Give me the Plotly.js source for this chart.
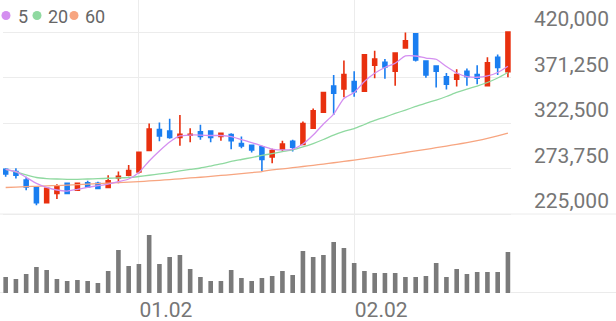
<!DOCTYPE html>
<html><head><meta charset="utf-8">
<script src="https://cdn.plot.ly/plotly-3.0.1.min.js"></script>
<style>html,body{margin:0;padding:0;background:#fff}#chart{width:616px;height:321px}</style>
</head><body><div id="chart"></div>
<script>
const dates = ['12.13','12.14','12.15','12.16','12.19','12.20','12.21','12.22','12.23','12.26','12.27','12.28','12.29',
  '01.02','01.03','01.04','01.05','01.06','01.09','01.10','01.11','01.12','01.13','01.16','01.17','01.18','01.19','01.20',
  '01.25','01.26','01.27','01.30','01.31','02.01','02.02','02.03','02.06','02.07','02.08','02.09','02.10','02.13','02.14',
  '02.15','02.16','02.17','02.20','02.21','02.22','02.23'];
const open  = [273000,270500,261500,253500,237000,247000,258000,250500,258500,258000,253500,263500,266500,270000,293000,315500,314000,307000,309500,313000,314000,308000,310000,300500,298500,297000,286000,294500,303000,299500,317000,334000,362000,359000,367000,356500,384500,387500,378000,403000,418000,389000,383500,372000,369500,378000,374500,362500,393000,377500];
const high  = [274000,274000,265000,254000,253000,257000,258500,258500,260500,259500,266500,270500,277500,292000,322000,323000,327000,331000,317000,320500,314500,312000,311500,308000,299500,298000,295000,303500,304500,324000,338000,356000,374000,389500,378000,396000,400000,391000,398000,419500,418500,389500,384500,376000,380000,381000,384500,393000,396000,420000];
const low   = [265000,263000,250500,234500,236500,241000,246500,250000,253500,251500,253000,258000,265500,268500,292500,303000,305500,298000,302000,304500,302000,303500,294500,295500,291000,271000,279500,292000,292000,299000,316000,333500,331000,350000,350500,356000,370500,370000,362500,402500,388500,371000,360500,358500,361500,362500,364000,362000,374000,371500];
const close = [268000,266500,254000,237000,252500,255000,247000,258000,254000,252500,260500,265500,271500,291000,316000,308500,307000,310500,310500,308000,307000,311500,303500,298000,293500,283500,293000,300000,296500,322000,335500,355000,354500,374500,356000,395500,391000,382500,397500,410500,390000,374000,378000,364000,374500,372000,370500,387000,382000,420000];
const volume = [16000,14000,19000,26000,23000,14000,12000,13000,12000,10000,22000,43000,27000,29000,58000,29000,36000,38000,24000,16000,12000,12000,23000,15000,12000,15000,17000,22000,18000,42000,36000,38000,51000,45000,30000,22000,20000,20000,20000,16000,16000,17000,30000,16000,24000,19000,21000,21000,21000,41000];
const ma5  = [272900,270300,264300,257900,253600,250700,249600,251500,253600,255300,257100,259600,262500,269500,281800,292500,302100,308600,309600,309600,309100,309100,308000,304800,301600,297900,294600,293600,294600,300000,309600,321400,332100,348800,355200,367000,375800,382000,386500,394300,394300,392100,390800,383000,376100,372300,371500,372900,376600,383300];
const ma20 = [272700,270000,266800,264100,263000,262500,262200,262200,262500,262800,263300,263600,264100,265200,266500,267900,269300,271100,272700,274300,276400,278600,281300,283400,285500,287700,289800,291800,293600,296800,300500,304800,309600,313400,316600,320900,325200,328900,332700,336400,340200,343900,347100,350900,355200,358900,362100,365900,370700,376600];
const ma60 = [253400,253800,254300,254700,255100,255500,256000,256500,257000,257600,258100,258600,259200,259700,260400,261100,261900,262700,263600,264400,265300,266300,267200,268200,269300,270500,272300,273400,274600,275900,277200,278500,279900,281300,282800,284300,285900,287500,289200,290900,292600,294300,296000,297800,299600,301500,303600,306000,308700,311600];
const priceTicks = [225000,273750,322500,371250,420000];
const dateTicks = ['01.02','02.02'];
const maNames = ['5','20','60'];
const maColors = ['#d48ff0','#8fd9a0','#f7a580'];

const UP = '#e8300f', DOWN = '#1a7ef0', GRID = '#ececec', TXT = '#767676';
const W = 616, H = 321, L = 3, R = 105, T = 0, B = 28;
const pw = W - L - R, ph = H - T - B;
const px = v => (v - L) / pw, py = v => (H - B - v) / ph;

const traces = [
  {type:'bar', x:dates, y:volume, xaxis:'x', yaxis:'y2', width:0.45,
   marker:{color:'#7a7a7a', line:{width:0}}, hoverinfo:'skip', showlegend:false},
  {type:'candlestick', x:dates, open:open, high:high, low:low, close:close, xaxis:'x', yaxis:'y',
   increasing:{line:{color:UP, width:1.6}, fillcolor:UP},
   decreasing:{line:{color:DOWN, width:1.6}, fillcolor:DOWN},
   whiskerwidth:0, hoverinfo:'skip', showlegend:false}
];
[ma60, ma20, ma5].forEach((arr, k) => {
  const i = 2 - k;
  traces.push({type:'scatter', mode:'lines', x:dates, y:arr, xaxis:'x', yaxis:'y', name:maNames[i],
    line:{color:maColors[i], width:1.3, shape:'spline', smoothing:0.6}, hoverinfo:'skip', showlegend:false});
});

const legendX = [6, 37, 74], legendTextX = [15.5, 45.5, 82.5];
const annotations = maNames.map((n, i) => ({
  xref:'paper', yref:'paper', x:px(legendTextX[i]), y:py(16), xanchor:'left', yanchor:'middle',
  text:n, showarrow:false, font:{family:'Roboto', size:18, color:'#666'}
}));
const shapes = maColors.map((c, i) => ({
  type:'circle', xref:'paper', yref:'paper', xsizemode:'pixel', ysizemode:'pixel',
  xanchor:px(legendX[i]), yanchor:py(15.5), x0:-4.5, x1:4.5, y0:-4.5, y1:4.5,
  fillcolor:c, line:{width:0}
}));
shapes.push({type:'line', xref:'paper', yref:'y', x0:px(0), x1:px(W), y0:priceTicks[0], y1:priceTicks[0],
  line:{color:GRID, width:1}, layer:'below'});
shapes.push({type:'line', xref:'paper', yref:'y2', x0:px(0), x1:px(W), y0:0, y1:0,
  line:{color:'#e4e4e4', width:1.5}, layer:'below'});

const layout = {
  width:W, height:H, margin:{l:L, r:R, t:T, b:B},
  paper_bgcolor:'#fff', plot_bgcolor:'#fff',
  font:{family:'Roboto', color:TXT},
  showlegend:false, boxgap:0.45, boxgroupgap:0.3,
  xaxis:{type:'category', categoryorder:'array', categoryarray:dates, range:[-0.26, 49.3],
    tickvals:dateTicks, ticktext:dateTicks, showgrid:true, gridcolor:GRID, gridwidth:1,
    zeroline:false, showline:false, ticks:'', tickfont:{family:'Roboto', size:21, color:TXT},
    ticklabelshift:27, ticklabelstandoff:2, rangeslider:{visible:false}, anchor:'y', fixedrange:true},
  yaxis:{domain:[0,1], range:[140357, 454286], side:'right', tickvals:priceTicks,
    ticktext:priceTicks.map(v => v.toLocaleString('en-US')), showgrid:true, gridcolor:GRID, gridwidth:1,
    zeroline:false, showline:false, ticks:'', tickfont:{family:'Roboto', size:21, color:TXT},
    ticklabelshift:-13, ticklabelstandoff:22, anchor:'x', fixedrange:true},
  yaxis2:{domain:[0, 60/ph], range:[0, 60000], visible:false, anchor:'x', fixedrange:true},
  annotations:annotations, shapes:shapes
};
Plotly.newPlot('chart', traces, layout, {staticPlot:true, displayModeBar:false});
</script></body></html>
